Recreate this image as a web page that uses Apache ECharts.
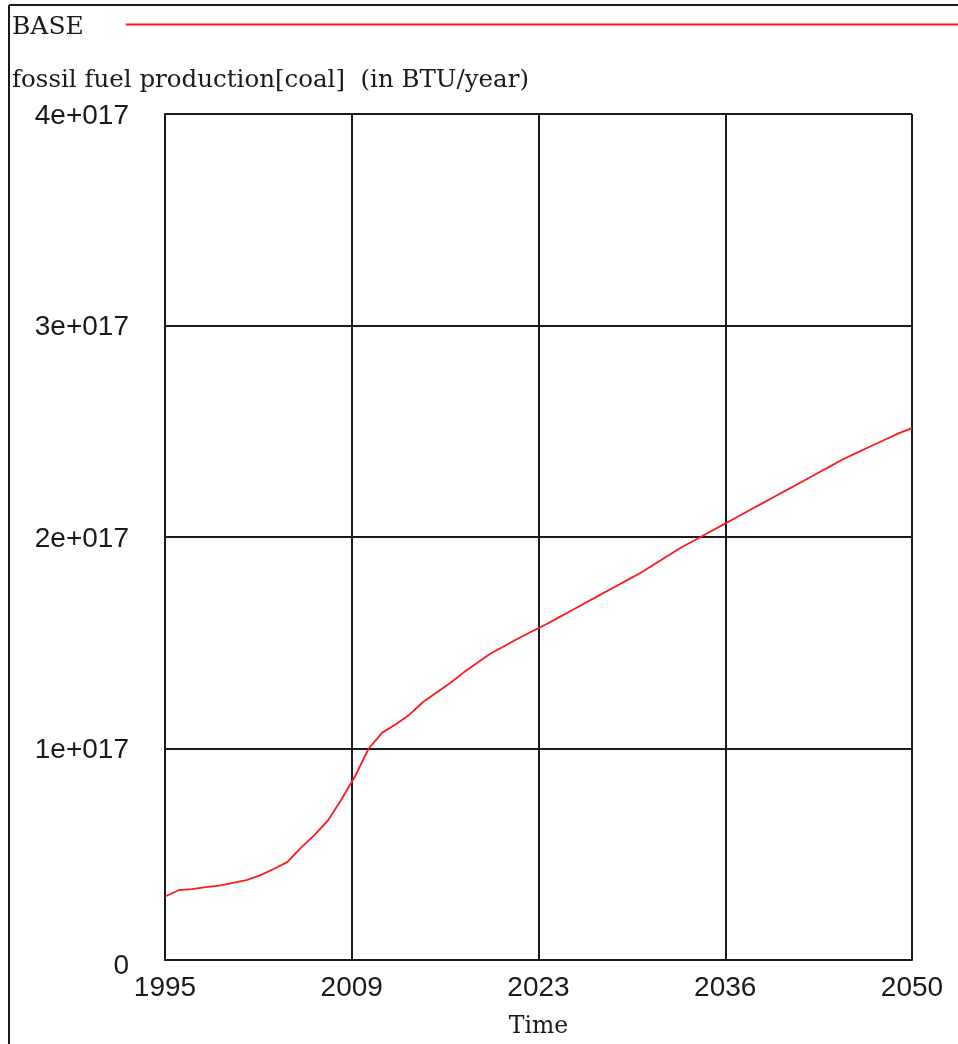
<!DOCTYPE html>
<html>
<head>
<meta charset="utf-8">
<script src="https://cdn.jsdelivr.net/npm/echarts@6/dist/echarts.min.js"></script>
<style>
  html, body { margin: 0; padding: 0; background: #fff; }
  #chart { width: 958px; height: 1044px; }
</style>
</head>
<body>
<div id="chart"></div>
<script>
// fossil fuel production[coal], BASE run (BTU/year)
const years = [];
for (let y = 1995; y <= 2050; y++) years.push(y);

const coalE17 = [
  0.30, 0.33, 0.335, 0.345, 0.352, 0.365, 0.378, 0.40, 0.43, 0.463,
  0.53, 0.59, 0.66, 0.76, 0.87, 1.00, 1.075, 1.115, 1.16, 1.22,
  1.265, 1.31, 1.36, 1.405, 1.45, 1.485, 1.52, 1.553, 1.585, 1.62,
  1.655, 1.69, 1.725, 1.76, 1.795, 1.83, 1.87, 1.91, 1.95, 1.985,
  2.02, 2.055, 2.09, 2.125, 2.16, 2.195, 2.23, 2.265, 2.30, 2.335,
  2.37, 2.40, 2.43, 2.46, 2.49, 2.515
];

const yTicks = [0, 1e17, 2e17, 3e17, 4e17];
const seriesName = 'BASE';
const chartTitle = 'fossil fuel production[coal]  (in BTU/year)';

const SERIF = '"DejaVu Serif", "Liberation Serif", serif';
const SANS = '"Liberation Sans", Arial, sans-serif';
const INK = '#1a1a1a';

const chart = echarts.init(document.getElementById('chart'), null, { renderer: 'canvas' });

chart.setOption({
  animation: false,
  backgroundColor: '#fff',
  title: {
    text: chartTitle,
    left: 7, top: 63,
    textStyle: { fontFamily: SERIF, fontSize: 24.5, fontWeight: 'normal', color: INK }
  },
  legend: {
    left: 7, top: 10,
    align: 'right',
    icon: 'rect',
    itemWidth: 834, itemHeight: 2,
    itemGap: 0,
    data: [seriesName],
    formatter: (n) => '{a|' + n + '}',
    textStyle: {
      fontFamily: SERIF, fontSize: 25, color: INK,
      rich: { a: { fontFamily: SERIF, fontSize: 25, color: INK, padding: [6, 37, 0, 0] } }
    }
  },
  grid: { left: 165, top: 114, width: 747, height: 846, containLabel: false, outerBoundsMode: 'none' },
  xAxis: {
    type: 'value', min: 1995, max: 2050, interval: 13.75,
    name: 'Time', nameLocation: 'middle', nameGap: 55,
    nameTextStyle: { fontFamily: SERIF, fontSize: 23.5, color: INK },
    axisLine: { lineStyle: { color: INK, width: 2 } },
    axisTick: { show: false },
    splitLine: { show: true, lineStyle: { color: INK, width: 2 } },
    axisLabel: {
      fontFamily: SANS, fontSize: 28, color: INK, margin: 14,
      formatter: (v) => String(Math.round(v + 1e-9))
    }
  },
  yAxis: {
    type: 'value', min: yTicks[0], max: yTicks[yTicks.length - 1], interval: 1e17,
    axisLine: { show: true, lineStyle: { color: INK, width: 2 } },
    axisTick: { show: false },
    splitLine: { show: true, lineStyle: { color: INK, width: 2 } },
    axisLabel: {
      fontFamily: SANS, fontSize: 28, color: INK, margin: 36,
      formatter: (v) => v === 0 ? '{z|0}' : '{n|' + (v / 1e17) + 'e+017}',
      rich: {
        z: { fontFamily: SANS, fontSize: 28, color: INK, padding: [12, 0, 0, 0], align: 'right' },
        n: { fontFamily: SANS, fontSize: 28, color: INK, padding: [4, 0, 0, 0], align: 'right' }
      }
    }
  },
  graphic: [
    { type: 'line', shape: { x1: 9, y1: 5, x2: 958, y2: 5 }, style: { stroke: INK, lineWidth: 2 } },
    { type: 'line', shape: { x1: 9, y1: 5, x2: 9, y2: 1044 }, style: { stroke: INK, lineWidth: 2 } }
  ],
  series: [{
    name: seriesName,
    type: 'line',
    data: years.map((y, i) => [y, coalE17[i] * 1e17]),
    showSymbol: false,
    symbol: 'none',
    lineStyle: { color: '#ff1a1a', width: 1.8 },
    itemStyle: { color: '#ff1a1a' }
  }]
});
</script>
</body>
</html>
